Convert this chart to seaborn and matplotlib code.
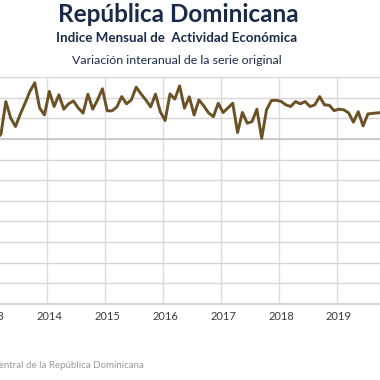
import numpy as np
import pandas as pd
import matplotlib
matplotlib.use("Agg")
import matplotlib.pyplot as plt
import seaborn as sns

# monthly year-on-year variation (%), Jan 2013 .. Oct 2019
months = pd.date_range("2013-01-01", periods=82, freq="MS")
variacion = [
    1.5, -0.2, 1.2, 9.05, 5.1, 3.0, 6.0, 8.7, 11.55, 13.6, 7.5, 5.8,
    11.5, 7.85, 10.7, 7.2, 8.5, 9.2, 7.5, 6.25, 10.85, 7.2, 9.45, 12.15,
    6.8, 6.8, 7.75, 10.25, 8.5, 9.45, 12.55, 10.9, 9.45, 7.75, 10.85, 6.55,
    4.45, 10.9, 9.65, 12.85, 7.45, 10.2, 5.8, 9.45, 8.0, 6.3, 5.4, 8.65,
    6.4, 7.5, 8.65, 1.55, 6.4, 3.8, 4.2, 7.2, 0.15, 7.05, 9.3, 9.35,
    9.1, 8.25, 7.85, 9.05, 8.5, 9.05, 7.85, 8.25, 10.25, 8.25, 8.15, 6.85,
    7.2, 7.05, 6.3, 4.05, 6.6, 3.15, 6.05, 6.2, 6.3, 6.45,
]
years = ["2013", "2014", "2015", "2016", "2017", "2018", "2019"]

df = pd.DataFrame({"mes": np.arange(len(months)), "variacion": variacion})

sns.set_style("white")
plt.rcParams["font.family"] = ["Lato", "DejaVu Sans"]

W = 380
fig = plt.figure(figsize=(3.8, 3.8), dpi=100)
# axes runs past both figure edges, like the cropped original
ax = fig.add_axes([-40 / W, 76 / W, 460 / W, 227 / W])

sns.lineplot(data=df, x="mes", y="variacion", ax=ax, color="#6b5126",
             linewidth=2.1, solid_joinstyle="round", solid_capstyle="round")

ax.set_yticks(np.arange(-40, 16, 5))
ax.set_yticklabels([])
ax.set_xticks(np.arange(0, 12 * len(years), 12))
ax.set_xticklabels(years)
ax.set_xticks(np.arange(-0.5, 12 * (len(years) + 1), 12), minor=True)
# limits after the ticks, set_xticks would widen them otherwise
ax.set_xlim((-40 + 8.66) / 4.828, (420 + 8.66) / 4.828)
ax.set_ylim(-40, 15)

ax.grid(axis="y", which="major", color="#d6d6d6", linewidth=1.0)
ax.grid(axis="x", which="minor", color="#dcdcdc", linewidth=1.0)
ax.axhline(0, color="#c4c4c4", linewidth=1.1, zorder=1)
ax.tick_params(axis="both", which="both", length=0)
ax.tick_params(axis="x", pad=5, labelsize=8, labelcolor="#3a3a3a")
ax.set_xlabel("")
ax.set_ylabel("")
for s in ["top", "left", "right"]:
    ax.spines[s].set_visible(False)
ax.spines["bottom"].set_color("#cfcfcf")
ax.spines["bottom"].set_linewidth(1.2)

navy = "#1b2a48"
fig.text(178 / W, 1 - 14 / W, "República Dominicana", ha="center", va="center",
         fontsize=17.5, fontweight="bold", color=navy)
fig.text(177 / W, 1 - 38 / W, "Indice Mensual de  Actividad Económica",
         ha="center", va="center", fontsize=9.6, fontweight="bold", color=navy)
fig.text(177 / W, 1 - 60 / W, "Variación interanual de la serie original",
         ha="center", va="center", fontsize=8.9, color=navy)
fig.text(144 / W, 1 - 366 / W, "Fuente: Banco Central de la República Dominicana",
         ha="right", va="center", fontsize=7, color="#9a9a9a")

fig.savefig("out.png", dpi=100)
